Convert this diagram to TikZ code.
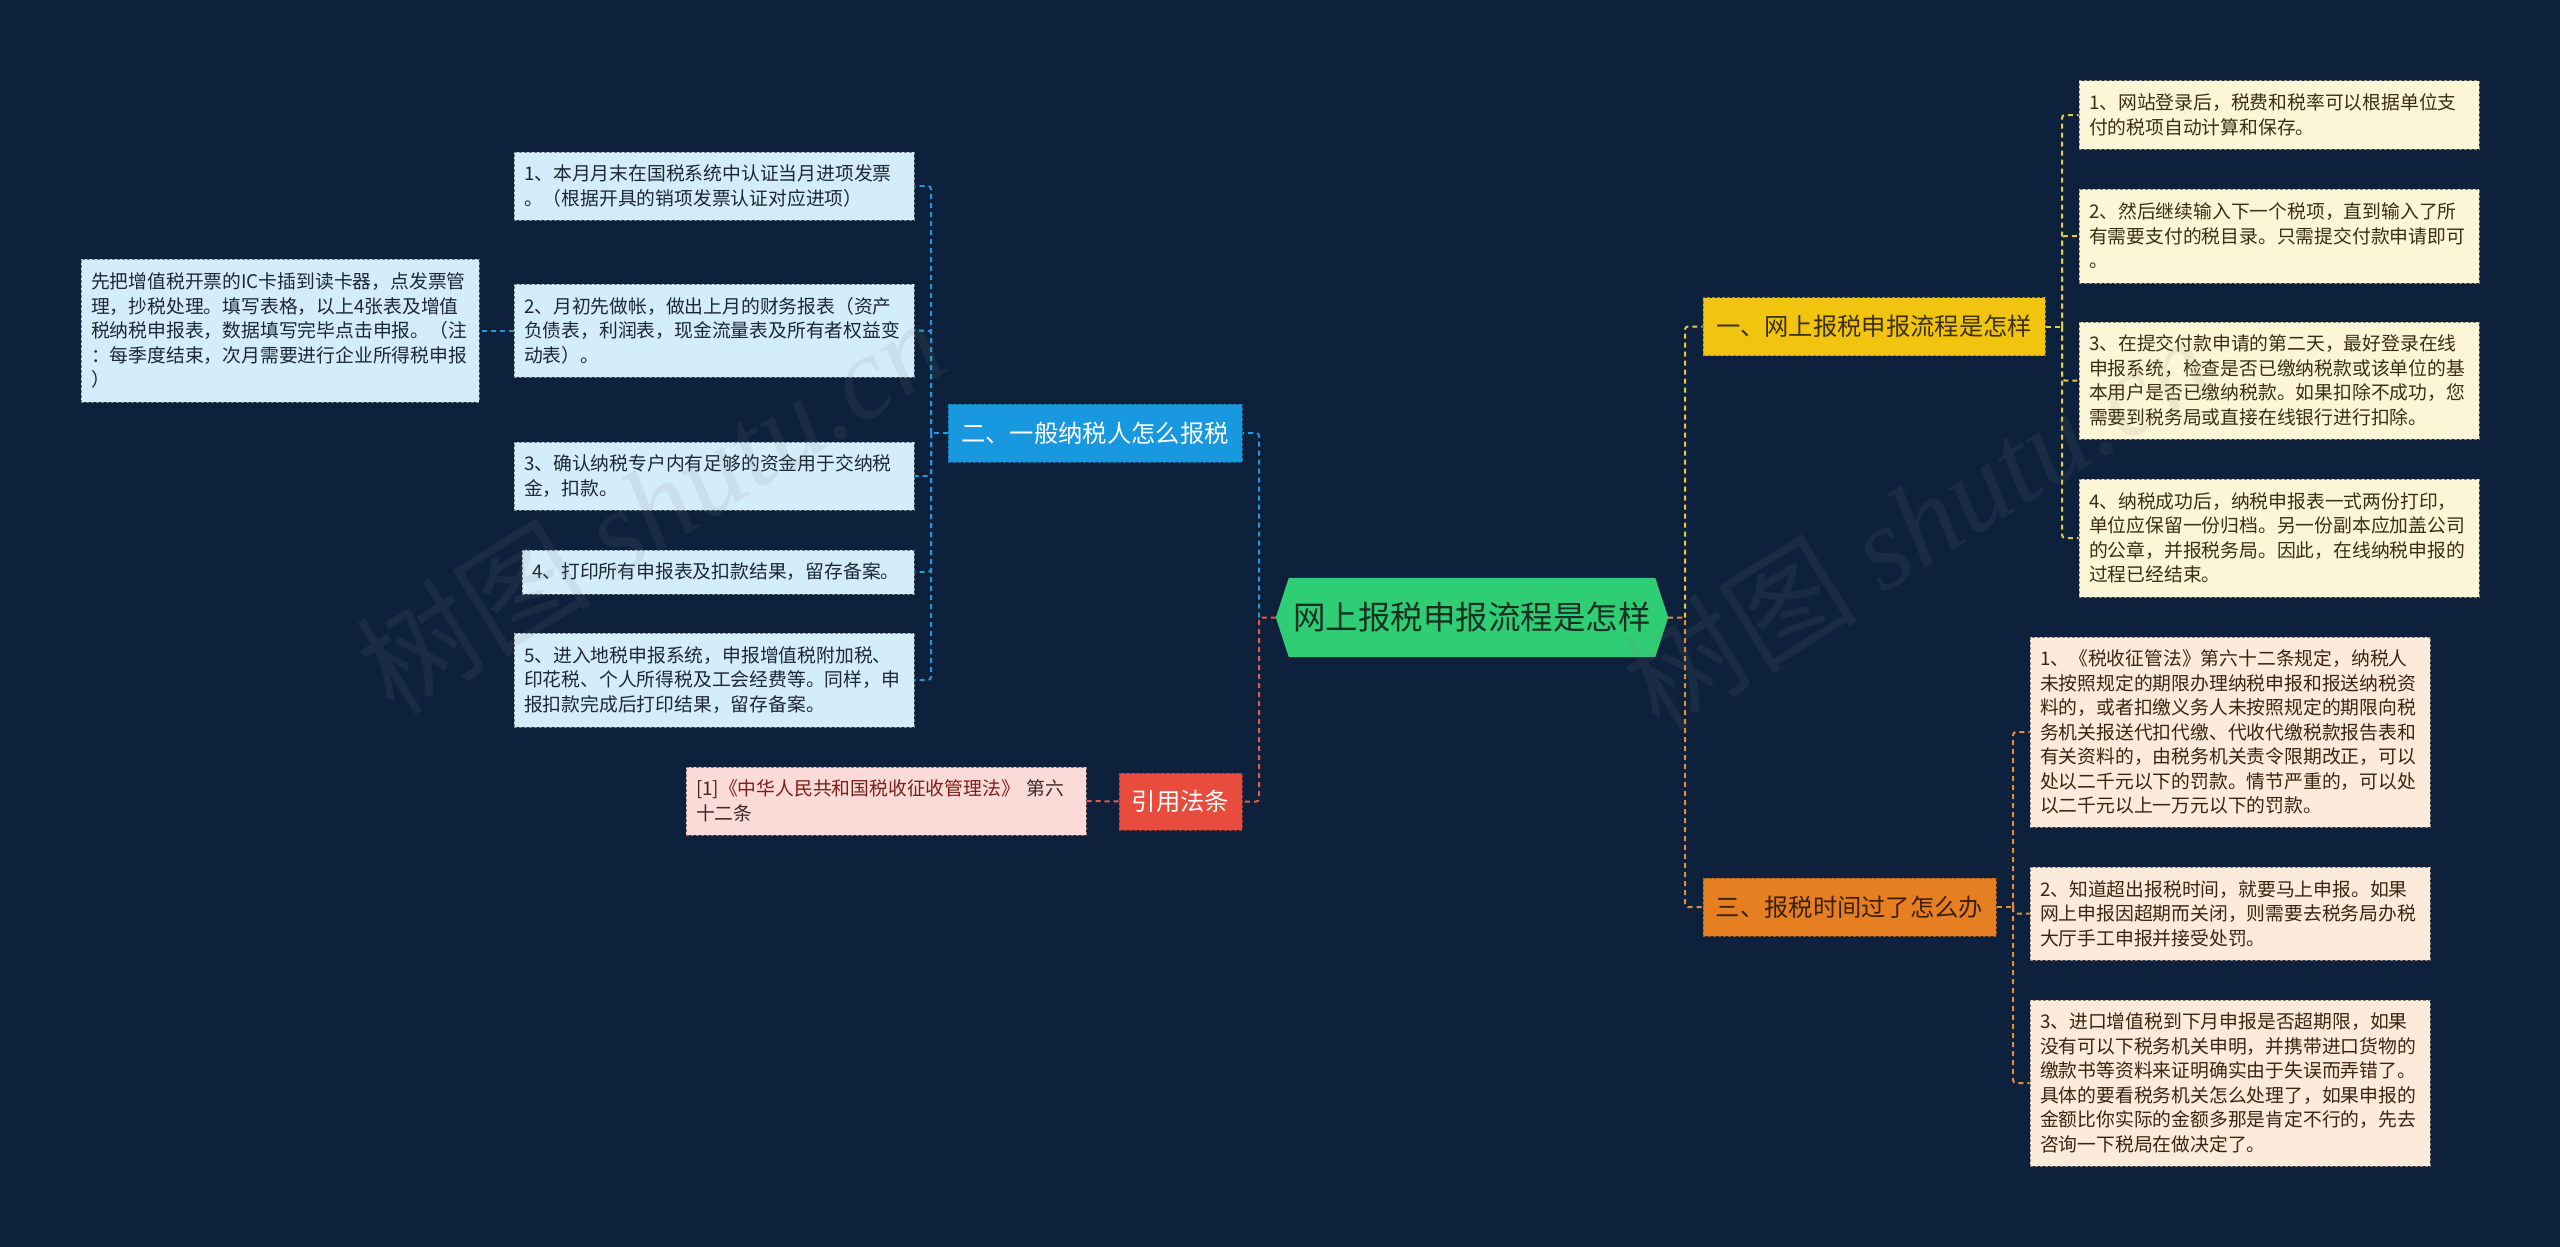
\documentclass[tikz,border=0pt]{standalone}
\usepackage{fontspec}
\setmainfont{Noto Sans CJK SC}
\newfontfamily\wmlatin{Liberation Serif}
\definecolor{bgc}{RGB}{13,33,60}
\definecolor{rootfill}{RGB}{48,206,116}
\definecolor{roottext}{RGB}{22,48,34}
\definecolor{yfill}{RGB}{241,196,15}
\definecolor{ytext}{RGB}{60,48,5}
\definecolor{yleaffill}{RGB}{253,246,214}
\definecolor{yleaftext}{RGB}{58,46,20}
\definecolor{yconn}{RGB}{232,200,64}
\definecolor{bfill}{RGB}{24,152,222}
\definecolor{bleaffill}{RGB}{212,237,250}
\definecolor{bleaftext}{RGB}{28,40,52}
\definecolor{bconn}{RGB}{42,150,218}
\definecolor{ofill}{RGB}{230,126,34}
\definecolor{otext}{RGB}{58,32,6}
\definecolor{oleaffill}{RGB}{252,234,218}
\definecolor{oleaftext}{RGB}{58,37,16}
\definecolor{oconn}{RGB}{222,140,62}
\definecolor{rfill}{RGB}{231,76,60}
\definecolor{rleaffill}{RGB}{250,219,216}
\definecolor{rleaftext}{RGB}{60,40,40}
\definecolor{rlink}{RGB}{125,30,24}
\definecolor{rconn}{RGB}{222,92,80}
\begin{document}
\begin{tikzpicture}[x=1pt,y=-1pt,
  conn/.style={line width=2pt, dash pattern=on 5pt off 4pt, rounded corners=3pt},
  leafbase/.style={rectangle, line width=1pt, dash pattern=on 3pt off 2pt,
    inner xsep=10pt, inner ysep=0pt, text width=380pt, align=left,
    font=\fontsize{18.8pt}{24.5pt}\selectfont},
  yleaf/.style={leafbase, fill=yleaffill, draw=yleaffill!55!black, text=yleaftext},
  bleaf/.style={leafbase, fill=bleaffill, draw=bleaffill!55!black, text=bleaftext},
  oleaf/.style={leafbase, fill=oleaffill, draw=oleaffill!55!black, text=oleaftext},
  rleaf/.style={leafbase, fill=rleaffill, draw=rleaffill!55!black, text=rleaftext},
  branch/.style={rectangle, inner sep=0pt, minimum height=58pt, line width=1pt,
    dash pattern=on 3pt off 2pt, font=\fontsize{24.3pt}{28pt}\selectfont},
  wm/.style={text=gray, opacity=0.12, rotate=32, font=\fontsize{118pt}{120pt}\selectfont}
]
\useasboundingbox (0,0) rectangle (2560,1247);
\fill[bgc] (0,0) rectangle (2560,1247);

% root
\node[inner sep=0pt, minimum width=366pt, minimum height=79pt] (root) at (1472,617.5) {};
\fill[rootfill] (root.north west) -- (root.north east) -- ([xshift=13pt]root.east)
  -- (root.south east) -- (root.south west) -- ([xshift=-13pt]root.west) -- cycle;
\node[text=roottext, font=\fontsize{32.5pt}{36pt}\selectfont] (roottxt) at (root.center) {网上报税申报流程是怎样};
\coordinate (rootR) at ([xshift=13pt]root.east);
\coordinate (rootL) at ([xshift=-13pt]root.west);

% branches
\node[branch, fill=yfill, draw=yfill!70!black, text=ytext, minimum width=342pt] (yel) at (1874,326.5) {一、网上报税申报流程是怎样};
\node[branch, fill=ofill, draw=ofill!70!black, text=otext, minimum width=293pt] (org) at (1849.5,907) {三、报税时间过了怎么办};
\node[branch, fill=bfill, draw=bfill!70!black, text=white, minimum width=294pt] (blu) at (1095,433) {二、一般纳税人怎么报税};
\node[branch, fill=rfill, draw=rfill!70!black, text=white, minimum width=123pt, minimum height=57pt] (red) at (1180.5,801.5) {引用法条};

% yellow leaves
\node[yleaf, minimum height=68pt] (y1) at (2279,115) {1、网站登录后，税费和税率可以根据单位支\\付的税项自动计算和保存。};
\node[yleaf, minimum height=94pt] (y2) at (2279,236) {2、然后继续输入下一个税项，直到输入了所\\有需要支付的税目录。只需提交付款申请即可\\。};
\node[yleaf, minimum height=117pt] (y3) at (2279,380.5) {3、在提交付款申请的第二天，最好登录在线\\申报系统，检查是否已缴纳税款或该单位的基\\本用户是否已缴纳税款。如果扣除不成功，您\\需要到税务局或直接在线银行进行扣除。};
\node[yleaf, minimum height=118pt] (y4) at (2279,538) {4、纳税成功后，纳税申报表一式两份打印，\\单位应保留一份归档。另一份副本应加盖公司\\的公章，并报税务局。因此，在线纳税申报的\\过程已经结束。};

% orange leaves
\node[oleaf, minimum height=190pt] (o1) at (2230,732) {1、《税收征管法》第六十二条规定，纳税人\\未按照规定的期限办理纳税申报和报送纳税资\\料的，或者扣缴义务人未按照规定的期限向税\\务机关报送代扣代缴、代收代缴税款报告表和\\有关资料的，由税务机关责令限期改正，可以\\处以二千元以下的罚款。情节严重的，可以处\\以二千元以上一万元以下的罚款。};
\node[oleaf, minimum height=93pt] (o2) at (2230,913.5) {2、知道超出报税时间，就要马上申报。如果\\网上申报因超期而关闭，则需要去税务局办税\\大厅手工申报并接受处罚。};
\node[oleaf, minimum height=166pt] (o3) at (2230,1083) {3、进口增值税到下月申报是否超期限，如果\\没有可以下税务机关申明，并携带进口货物的\\缴款书等资料来证明确实由于失误而弄错了。\\具体的要看税务机关怎么处理了，如果申报的\\金额比你实际的金额多那是肯定不行的，先去\\咨询一下税局在做决定了。};

% blue leaves
\node[bleaf, minimum height=68pt] (b1) at (714,186) {1、本月月末在国税系统中认证当月进项发票\\。（根据开具的销项发票认证对应进项）};
\node[bleaf, minimum height=93pt] (b2) at (714,330.5) {2、月初先做帐，做出上月的财务报表（资产\\负债表，利润表，现金流量表及所有者权益变\\动表）。};
\node[bleaf, minimum height=143pt, text width=378pt] (bl) at (280,330.5) {先把增值税开票的IC卡插到读卡器，点发票管\\理，抄税处理。填写表格，以上4张表及增值\\税纳税申报表，数据填写完毕点击申报。（注\\：每季度结束，次月需要进行企业所得税申报\\）};
\node[bleaf, minimum height=68pt] (b3) at (714,476) {3、确认纳税专户内有足够的资金用于交纳税\\金，扣款。};
\node[bleaf, minimum height=44pt, text width=372pt] (b4) at (718,572) {4、打印所有申报表及扣款结果，留存备案。};
\node[bleaf, minimum height=94pt] (b5) at (714,680) {5、进入地税申报系统，申报增值税附加税、\\印花税、个人所得税及工会经费等。同样，申\\报扣款完成后打印结果，留存备案。};

% red leaf
\node[rleaf, minimum height=68pt] (rl) at (886,801) {[1]{\color{rlink}《中华人民共和国税收征收管理法》}~第六\\十二条};

% connectors
\coordinate (jR) at (1685,617.5);
\coordinate (jL) at (1259,617.5);
\coordinate (jY) at (2062,326.5);
\coordinate (jO) at (2013,907);
\coordinate (jB) at (931,433);

\draw[conn, draw=oconn] (rootR) -- (jR) |- (org.west);
\draw[conn, draw=yconn] (jR) |- (yel.west);
\draw[conn, draw=rconn] (rootL) -- (jL) |- (red.east);
\draw[conn, draw=bconn] (jL) |- (blu.east);

\draw[conn, draw=yconn] (yel.east) -- (jY);
\foreach \n in {y1,y2,y3,y4} \draw[conn, draw=yconn] (jY) |- (\n.west);
\draw[conn, draw=oconn] (org.east) -- (jO);
\foreach \n in {o1,o2,o3} \draw[conn, draw=oconn] (jO) |- (\n.west);
\draw[conn, draw=bconn] (blu.west) -- (jB);
\foreach \n in {b1,b2,b3,b4,b5} \draw[conn, draw=bconn] (jB) |- (\n.east);
\draw[conn, draw=bconn] (b2.west) -- (bl.east);
\draw[conn, draw=rconn] (red.west) -- (rl.east);

% watermarks
\node[wm] (wm1) at (650,505) {树图 {\wmlatin\itshape shutu.cn}};
\node[wm] (wm2) at (1916,521) {树图 {\wmlatin\itshape shutu.cn}};
\end{tikzpicture}
\end{document}
